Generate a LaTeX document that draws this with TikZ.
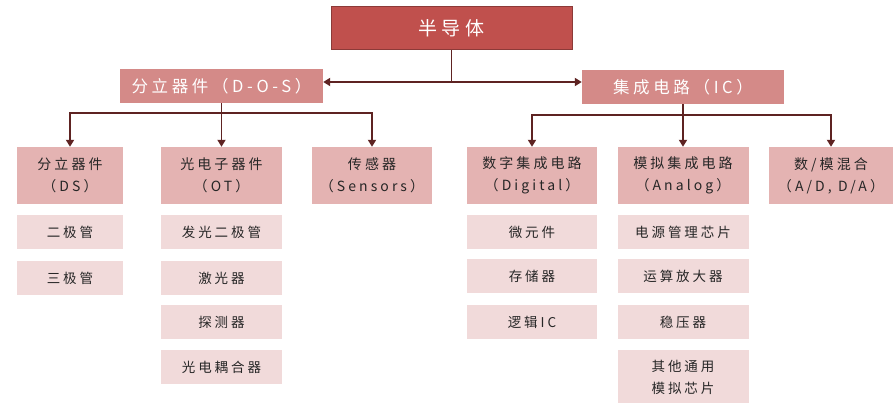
\documentclass[tikz,border=0pt]{standalone}
\usepackage{fontspec}
\setmainfont{Noto Sans CJK SC}[LetterSpace=22]
\usetikzlibrary{arrows.meta}
\definecolor{topred}{HTML}{C0504D}
\definecolor{topborder}{HTML}{8C3A38}
\definecolor{lvone}{HTML}{D48A88}
\definecolor{lvtwo}{HTML}{E4B3B2}
\definecolor{leafcol}{HTML}{F1DADA}
\definecolor{conncol}{HTML}{5E2322}
\begin{document}
\begin{tikzpicture}[x=1pt,y=-1pt,
  box/.style={rectangle, inner sep=0pt, align=center},
  topbox/.style={box, fill=topred, draw=topborder, line width=1pt, text=white,
    font=\fontsize{19}{22}\selectfont, minimum width=241pt, minimum height=43pt},
  lvonebox/.style={box, fill=lvone, text=white, font=\fontsize{16.5}{20}\selectfont,
    minimum height=34pt},
  lvtwobox/.style={box, fill=lvtwo, text=black!85, font=\fontsize{14}{22}\selectfont,
    minimum height=57pt},
  leafbox/.style={box, fill=leafcol, text=black!85, font=\fontsize{13.5}{22}\selectfont,
    minimum height=34pt},
  conn/.style={draw=conncol, line width=1.8pt},
  arr/.style={conn, -{Triangle[width=8pt,length=7pt]}}]
\useasboundingbox (0,0) rectangle (894,403);
% top
\node[topbox] (top) at (451.5,28.5) {半导体};
\node[lvonebox, minimum width=203pt] (dos) at (221.5,86) {分立器件（D-O-S）};
\node[lvonebox, minimum width=202pt] (ic) at (683,87) {集成电路（IC）};
% level 2
\node[lvtwobox, minimum width=106pt] (ds) at (70,175.5) {分立器件\\（DS）};
\node[lvtwobox, minimum width=121pt] (ot) at (221.5,175.5) {光电子器件\\（OT）};
\node[lvtwobox, minimum width=120pt] (sen) at (372,175.5) {传感器\\（Sensors）};
\node[lvtwobox, minimum width=130pt] (dig) at (532,175.5) {数字集成电路\\（Digital）};
\node[lvtwobox, minimum width=131pt] (ana) at (683,175.5) {模拟集成电路\\（Analog）};
\node[lvtwobox, minimum width=124pt] (ad) at (831,175.5) {数/模混合\\（A/D, D/A）};
% leaves
\node[leafbox, minimum width=106pt] (ds1) at (70,232) {二极管};
\node[leafbox, minimum width=106pt] (ds2) at (70,278) {三极管};
\node[leafbox, minimum width=121pt] (ot1) at (221.5,232) {发光二极管};
\node[leafbox, minimum width=121pt] (ot2) at (221.5,278) {激光器};
\node[leafbox, minimum width=121pt] (ot3) at (221.5,322) {探测器};
\node[leafbox, minimum width=121pt] (ot4) at (221.5,367) {光电耦合器};
\node[leafbox, minimum width=130pt] (dg1) at (532,232) {微元件};
\node[leafbox, minimum width=130pt] (dg2) at (532,276.5) {存储器};
\node[leafbox, minimum width=130pt] (dg3) at (532,322) {逻辑IC};
\node[leafbox, minimum width=131pt] (an1) at (683,232) {电源管理芯片};
\node[leafbox, minimum width=131pt] (an2) at (683,276.5) {运算放大器};
\node[leafbox, minimum width=131pt] (an3) at (683,322) {稳压器};
\node[leafbox, minimum width=131pt, minimum height=54pt] (an4) at (683,377) {其他通用\\模拟芯片};
% connectors
\coordinate (j0) at (451.5,82);
\draw[conn] (top.south) -- (j0);
\draw[arr] (j0) -- (j0 -| dos.east);
\draw[arr] (j0) -- (j0 -| ic.west);
\coordinate (jl) at (221.5,113);
\draw[conn] (dos.south) -- (jl);
\draw[arr] (jl) -| (ds.north);
\draw[arr] (jl) -| (sen.north);
\draw[arr] (jl) -- (ot.north);
\coordinate (jr) at (683,115);
\draw[conn] (ic.south) -- (jr);
\draw[arr] (jr) -| (dig.north);
\draw[arr] (jr) -| (ad.north);
\draw[arr] (jr) -- (ana.north);
\end{tikzpicture}
\end{document}
